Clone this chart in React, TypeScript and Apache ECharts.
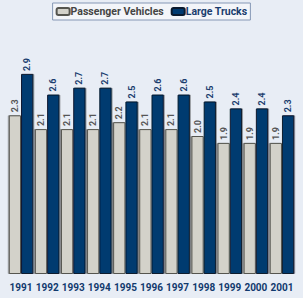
import React, { useEffect, useRef } from "react";
import * as echarts from "echarts";

const years = ["1991","1992","1993","1994","1995","1996","1997","1998","1999","2000","2001"];
const passengerVehicles = [2.3,2.1,2.1,2.1,2.2,2.1,2.1,2.0,1.9,1.9,1.9];
const largeTrucks = [2.9,2.6,2.7,2.7,2.5,2.6,2.6,2.5,2.4,2.4,2.3];

const FONT = "Roboto, 'DejaVu Sans Condensed', sans-serif";

export default function App() {
  const ref = useRef<HTMLDivElement>(null);
  useEffect(() => {
    const chart = echarts.init(ref.current!, null, { renderer: "svg" });
    const labelCommon = {
      show: true,
      position: "top",
      rotate: 90,
      align: "left",
      verticalAlign: "middle",
      distance: 3,
      fontFamily: FONT,
      fontWeight: "bold",
      fontSize: 9,
      formatter: (p: any) => p.value.toFixed(1),
    };
    chart.setOption({
      animation: false,
      backgroundColor: "#e8edf5",
      legend: {
        top: 3,
        left: "center",
        itemWidth: 13,
        itemHeight: 7,
        itemGap: 7,
        padding: [3, 3, 3, 3],
        backgroundColor: "#f3f5f9",
        borderColor: "#8597b5",
        borderWidth: 1,
        textStyle: { fontFamily: FONT, fontWeight: "bold", fontSize: 10.5, padding: [0, 0, 0, -4] },
        data: [
          { name: "Passenger Vehicles", textStyle: { color: "#444444" } },
          { name: "Large Trucks", textStyle: { color: "#1a3d6e" } },
        ],
      },
      grid: { left: 8, right: 8, top: 67, bottom: 24 },
      xAxis: {
        type: "category",
        data: years,
        axisLine: { show: false },
        axisTick: { show: false },
        axisLabel: {
          color: "#123a6e",
          fontFamily: FONT,
          fontWeight: "bold",
          fontSize: 10,
          margin: 8,
          interval: 0,
        },
      },
      yAxis: {
        type: "value",
        min: 0,
        max: 3,
        show: false,
        splitLine: { show: false },
      },
      series: [
        {
          name: "Passenger Vehicles",
          type: "bar",
          data: passengerVehicles,
          barGap: "0%",
          barCategoryGap: "6%",
          itemStyle: {
            color: "#d3d2ca",
            borderColor: "#55554f",
            borderWidth: 1,
            shadowColor: "rgba(0,0,0,0.35)",
            shadowOffsetX: -1,
            shadowOffsetY: 0,
            shadowBlur: 1,
          },
          label: { ...labelCommon, color: "#555555" },
        },
        {
          name: "Large Trucks",
          type: "bar",
          data: largeTrucks,
          barGap: "0%",
          barCategoryGap: "6%",
          itemStyle: {
            color: "#003a70",
            borderColor: "#0a1a2e",
            borderWidth: 1,
            shadowColor: "rgba(0,0,0,0.35)",
            shadowOffsetX: 1,
            shadowOffsetY: 0,
            shadowBlur: 1,
          },
          label: { ...labelCommon, color: "#1a3d6e" },
        },
      ],
    });
    return () => chart.dispose();
  }, []);
  return <div ref={ref} style={{ width: 303, height: 298, position: "absolute", left: 0, top: 0 }} />;
}
